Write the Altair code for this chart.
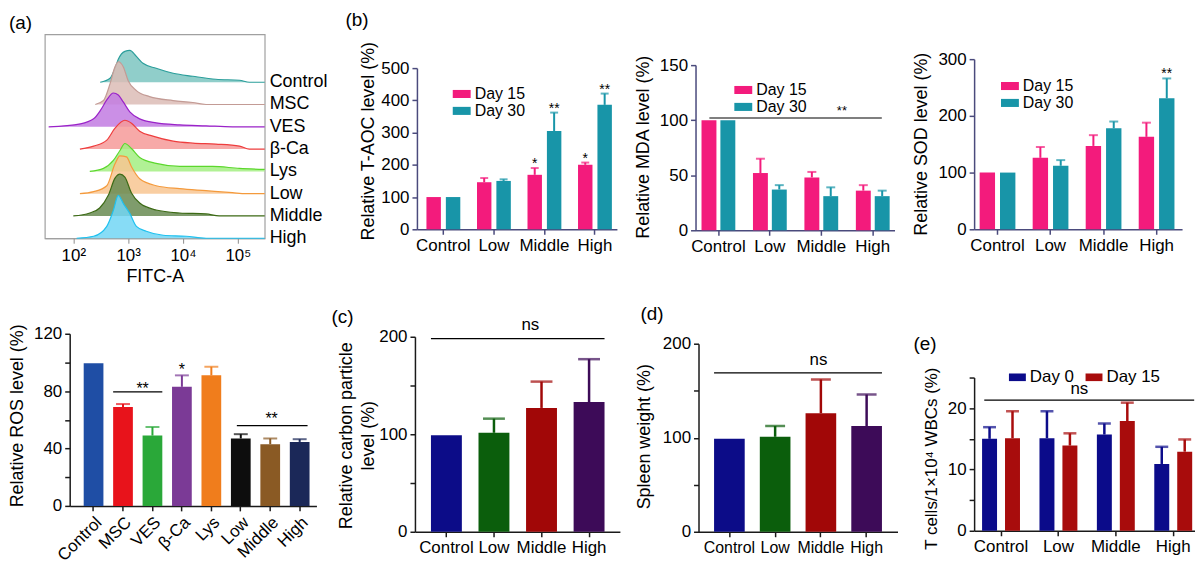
import altair as alt
import pandas as pd

FONT = "Liberation Sans"
RECT = "M-1,-0.45H1V0.45H-1Z"

# ---------------- (a) flow cytometry histograms ----------------
hist_groups = ["Control", "MSC", "VES", "β-Ca", "Lys", "Low", "Middle", "High"]
hist_line_colors = ["#2b9e9b", "#c39b95", "#9a23c8", "#ee3d3d", "#5bd72c", "#f49a3c", "#3c6a15", "#1fc1ef"]
hist_fill_colors = ["#7cc5c1", "#dcbcb6", "#c27be2", "#f69a99", "#a3ee82", "#f8c692", "#698b52", "#72d6f5"]
hist_step = 22.4

control_logx = [2.49, 2.67, 2.76, 2.82, 2.94, 3.03, 3.15, 3.27, 3.51, 3.82, 4.18, 4.6, 5.03, 5.21, 5.49]
control_h = [0, 4, 14, 23, 31, 32, 26, 19, 14, 9, 6, 3, 2, 0, 0]
msc_logx = [2.40, 2.55, 2.67, 2.76, 2.82, 2.91, 3.0, 3.15, 3.39, 3.82, 4.18, 4.42, 5.49]
msc_h = [0, 4, 21, 38, 43, 38, 24, 14, 8, 4, 2, 0, 0]
ves_logx = [1.55, 2.13, 2.37, 2.5, 2.61, 2.73, 2.82, 2.91, 3.03, 3.21, 3.51, 3.94, 4.42, 4.9, 5.49]
ves_h = [0, 3, 8, 17, 27, 34, 32, 25, 15, 8, 4, 2, 1, 0, 0]
bca_logx = [2.12, 2.37, 2.61, 2.76, 2.94, 3.06, 3.21, 3.45, 3.82, 4.18, 4.6, 5.03, 5.21, 5.49]
bca_h = [0, 3, 9, 21, 29, 26, 18, 13, 8, 6, 5, 3, 0, 0]
lys_logx = [2.3, 2.55, 2.73, 2.85, 2.94, 3.06, 3.21, 3.51, 3.94, 4.54, 5.03, 5.49]
lys_h = [0, 3, 11, 21, 28, 23, 14, 8, 5, 5, 3, 2]
low_logx = [2.12, 2.37, 2.61, 2.76, 2.85, 2.97, 3.06, 3.21, 3.51, 3.94, 4.42, 4.9, 5.15, 5.49]
low_h = [0, 2, 8, 30, 38, 37, 27, 15, 8, 5, 3, 1, 0, 0]
mid_logx = [2.0, 2.3, 2.48, 2.64, 2.76, 2.85, 2.94, 3.06, 3.21, 3.51, 3.94, 4.42, 4.66, 5.49]
mid_h = [0, 3, 8, 21, 38, 42, 39, 23, 13, 6, 3, 2, 0, 0]
high_logx = [2.06, 2.37, 2.61, 2.73, 2.82, 2.91, 3.03, 3.15, 3.33, 3.64, 4.06, 4.42, 5.49]
high_h = [0, 2, 12, 28, 43, 35, 25, 12, 7, 3, 2, 0, 0]

hist_logx = [control_logx, msc_logx, ves_logx, bca_logx, lys_logx, low_logx, mid_logx, high_logx]
hist_h = [control_h, msc_h, ves_h, bca_h, lys_h, low_h, mid_h, high_h]

# ---------------- (b) oxidative stress ----------------
cats4 = ["Control", "Low", "Middle", "High"]
days_b = ["Day 15", "Day 30"]
taoc_d15 = [100, 146, 169, 200]
taoc_d15_top = [100, 159, 190, 207]
taoc_d15_sig = ["", "", "*", "*"]
taoc_d30 = [100, 150, 305, 386]
taoc_d30_top = [100, 155, 362, 421]
taoc_d30_sig = ["", "", "**", "**"]

mda_d15 = [100, 52, 48, 36]
mda_d15_top = [100, 65, 53, 41]
mda_d30 = [100, 37, 31, 31]
mda_d30_top = [100, 41, 39, 36]
no_sig4 = ["", "", "", ""]

sod_d15 = [100, 126, 147, 163]
sod_d15_top = [100, 145, 166, 188]
sod_d30 = [100, 112, 178, 231]
sod_d30_top = [100, 122, 190, 266]
sod_d30_sig = ["", "", "", "**"]

# ---------------- ROS ----------------
ros_cats = ["Control", "MSC", "VES", "β-Ca", "Lys", "Low", "Middle", "High"]
ros_mean = [99.5, 69, 49, 83, 91, 47, 43, 44.6]
ros_top = [99.5, 71, 55, 91, 97, 50, 47, 46.5]
ros_sig = ["", "", "", "*", "", "", "", ""]
ros_colors = ["#1f4ea5", "#e8131b", "#2aa839", "#7b3a96", "#f07d1c", "#0d0d0d", "#8a5a24", "#1b2858"]

# ---------------- (c) (d) (e) ----------------
cd_colors = ["#0c0c88", "#0b5e0c", "#a10707", "#3d0b58"]
carbon_mean = [99, 101.5, 127, 133]
carbon_top = [99, 116, 154, 177]
spleen_mean = [99, 101, 126, 112.5]
spleen_top = [99, 112.5, 162, 146]

days_e = ["Day 0", "Day 15"]
tcell_d0 = [15.0, 15.1, 15.7, 10.9]
tcell_d0_top = [16.9, 19.5, 17.5, 13.7]
tcell_d15 = [15.1, 13.9, 17.9, 12.9]
tcell_d15_top = [19.5, 15.9, 20.9, 14.9]

PINK = "#f31b7c"
TEAL = "#1895a8"
BAXIS = "#4a4a7c"
KAXIS = "#1a1a1a"

RES = dict(x="independent", y="independent", color="independent", xOffset="independent")


def day_legend(x, y, direction="vertical", size=324, font_size=16):
    return alt.Legend(title=None, orient="none", legendX=x, legendY=y, direction=direction,
                      symbolType=RECT, symbolSize=size, symbolStrokeWidth=0, symbolOpacity=1,
                      labelFontSize=font_size, labelFont=FONT, labelColor="black", labelOffset=4,
                      rowPadding=0, columnPadding=11, padding=0)


def bar_panel(cats, means, tops, sigs, colors, *, series=None, width, height, band,
              offset_band=None, ydomain, yvalues, ylabel_every, ytitle, ytitle_x, ytitle_y,
              axis_color, cap, err_w=2.0, star_size=14, label_size=17, ylabel_size=17,
              title_size=18, label_angle=0, legend=None, extras=(), title_line_height=None):
    rows = []
    if series is None:
        for c, m, t, s in zip(cats, means, tops, sigs):
            rows.append({"cat": c, "grp": c, "mean": m, "top": t, "sig": s})
        color_domain = cats
    else:
        for si, sname in enumerate(series):
            for c, m, t, s in zip(cats, means[si], tops[si], sigs[si]):
                rows.append({"cat": c, "grp": sname, "mean": m, "top": t, "sig": s})
        color_domain = series
    df = pd.DataFrame(rows)

    x_axis = alt.Axis(title=None, labelAngle=label_angle, labelFontSize=label_size,
                      labelColor="black", labelPadding=3, labelOverlap=False, tickSize=5,
                      tickColor=axis_color, tickWidth=1.5, domainColor=axis_color,
                      domainWidth=1.5, grid=False, labelFont=FONT)
    x_scale = alt.Scale(domain=cats, paddingInner=band[0], paddingOuter=band[1], align=band[2])
    yax = dict(values=yvalues, title=ytitle, titleX=ytitle_x, titleY=ytitle_y,
               titleBaseline="middle", titleFontSize=title_size, titleFontWeight="normal",
               titleColor="black", titleFont=FONT, labelFontSize=ylabel_size, labelColor="black",
               labelFont=FONT, domainColor=axis_color, tickColor=axis_color, tickSize=5,
               tickWidth=1.5, domainWidth=1.5, grid=False, labelPadding=3)
    if ylabel_every:
        yax["labelExpr"] = f"datum.value % {ylabel_every} == 0 ? datum.label : ''"
    if title_line_height is not None:
        yax["titleLineHeight"] = title_line_height
    y_axis = alt.Axis(**yax)
    y_scale = alt.Scale(domain=ydomain, nice=False, zero=True)

    def X():
        return alt.X("cat:N", scale=x_scale, axis=x_axis)

    def Y(f):
        return alt.Y(f"{f}:Q", scale=y_scale, axis=y_axis)

    def enc(**kw):
        d = dict(x=X(), **kw)
        if series is not None:
            d["xOffset"] = alt.XOffset("grp:N", scale=alt.Scale(
                domain=series, paddingInner=offset_band[0], paddingOuter=offset_band[1]))
        return d

    cscale = alt.Scale(domain=color_domain, range=colors)
    bars = alt.Chart(df).mark_bar().encode(
        **enc(y=Y("mean"), color=alt.Color("grp:N", scale=cscale, legend=legend)))
    errs = alt.Chart(df).transform_filter("datum.top > datum.mean").mark_rule(
        strokeWidth=err_w).encode(
        **enc(y=Y("mean"), y2="top:Q", color=alt.Color("grp:N", scale=cscale, legend=None)))
    caps = alt.Chart(df).transform_filter("datum.top > datum.mean").mark_tick(
        orient="horizontal", size=cap, thickness=err_w).encode(
        **enc(y=Y("top"), color=alt.Color("grp:N", scale=cscale, legend=None)))
    stars = alt.Chart(df).transform_filter("datum.sig != ''").mark_text(
        baseline="alphabetic", fontSize=star_size, color="black", font=FONT).encode(
        **enc(y=Y("top"), text="sig:N"))
    layers = [bars, errs, caps, stars]
    for e in extras:
        edf = pd.DataFrame({"y": [e.get("y", 0)], "t": [e.get("text", "")]})
        if e["kind"] == "line":
            layers.append(alt.Chart(edf).mark_rule(color="black", strokeWidth=1.2).encode(
                x=alt.XDatum(e["from"][0], bandPosition=e["from"][1], type="nominal",
                             scale=x_scale, axis=x_axis),
                x2=alt.X2Datum(e["to"][0], bandPosition=e["to"][1]),
                y=Y("y")))
        elif e["kind"] == "text":
            layers.append(alt.Chart(edf).mark_text(
                baseline="alphabetic", align="center", fontSize=e["size"], color="black",
                font=FONT).encode(
                x=alt.XDatum(e["at"][0], bandPosition=e["at"][1], type="nominal",
                             scale=x_scale, axis=x_axis),
                y=Y("y"), text="t:N"))
        else:  # panel label, anchored to the first band start and the axis top
            layers.append(alt.Chart(edf).mark_text(
                baseline="middle", align="left", fontSize=19, color="black", font=FONT,
                dx=e["dx"], dy=e["dy"]).encode(
                x=alt.XDatum(cats[0], bandPosition=0, type="nominal", scale=x_scale, axis=x_axis),
                y=alt.YDatum(ydomain[1], type="quantitative", scale=y_scale, axis=y_axis),
                text="t:N"))
    return alt.layer(*layers).properties(width=width, height=height)


def spacer(w, h):
    return alt.Chart(pd.DataFrame({"v": [0]})).mark_point(opacity=0).encode(
        x=alt.X("v:Q", axis=None, scale=alt.Scale(domain=[0, 1])),
        y=alt.Y("v:Q", axis=None, scale=alt.Scale(domain=[0, 1]))).properties(width=w, height=h)


def wrap(panel, top, left=None):
    inner = alt.vconcat(spacer(1, top), panel, spacing=0, bounds="flush").resolve_scale(**RES)
    if left:
        inner = alt.hconcat(spacer(left, 1), inner, spacing=0, bounds="flush").resolve_scale(**RES)
    return inner


# ---------------- panel (a) ----------------
hist_rows = []
n_hist = len(hist_groups)
for i, g in enumerate(hist_groups):
    base = (n_hist - 1 - i) * hist_step
    for xv, hv in zip(hist_logx[i], hist_h[i]):
        hist_rows.append({"group": g, "logx": xv, "top": base + hv, "base": base})
hist_df = pd.DataFrame(hist_rows)
hist_label_df = pd.DataFrame({"group": hist_groups,
                              "base": [(n_hist - 1 - i) * hist_step for i in range(n_hist)]})

hx_scale = alt.Scale(domain=[1.48, 5.49], nice=False, zero=False)
hx_axis = alt.Axis(values=[2, 3, 4, 5],
                   labelExpr="'10' + (datum.value == 2 ? '²' : datum.value == 3 ? '³' : datum.value == 4 ? '⁴' : '⁵')",
                   title="FITC-A", titleFontSize=18, titleFontWeight="normal", titleColor="black",
                   titleFont=FONT, titlePadding=4, labelFontSize=17, labelColor="black",
                   labelFont=FONT, labelPadding=4, tickSize=5, tickColor="#8c8c8c",
                   domainColor="#a0a0a0", grid=False)
hy_scale = alt.Scale(domain=[0, 205], nice=False)

hist_layers = []
for g, lc, fc in zip(hist_groups, hist_line_colors, hist_fill_colors):
    src = alt.Chart(hist_df).transform_filter(alt.datum.group == g)
    hist_layers.append(src.mark_area(interpolate="monotone", color=fc, opacity=0.85).encode(
        x=alt.X("logx:Q", scale=hx_scale, axis=hx_axis),
        y=alt.Y("top:Q", scale=hy_scale, axis=None),
        y2="base:Q"))
    hist_layers.append(src.mark_line(interpolate="monotone", color=lc, strokeWidth=1.2).encode(
        x=alt.X("logx:Q", scale=hx_scale, axis=hx_axis),
        y=alt.Y("top:Q", scale=hy_scale, axis=None)))
hist_labels = alt.Chart(hist_label_df).mark_text(
    align="left", baseline="middle", dx=5, fontSize=18, color="black", font=FONT).encode(
    x=alt.XDatum(5.49, type="quantitative", scale=hx_scale, axis=hx_axis),
    y=alt.Y("base:Q", scale=hy_scale, axis=None),
    text="group:N")
a_label = alt.Chart(pd.DataFrame({"t": ["(a)"]})).mark_text(
    align="left", baseline="middle", fontSize=19, color="black", font=FONT, dx=-36, dy=-11).encode(
    x=alt.XDatum(1.48, type="quantitative", scale=hx_scale, axis=hx_axis),
    y=alt.YDatum(205, type="quantitative", scale=hy_scale, axis=None),
    text="t:N")
panel_a = alt.layer(*hist_layers, hist_labels, a_label).properties(
    width=221, height=205,
    view=alt.ViewBackground(stroke="#a0a0a0", strokeWidth=1.2))

# ---------------- panel (b) ----------------
taoc = bar_panel(cats4, [taoc_d15, taoc_d30], [taoc_d15_top, taoc_d30_top],
                 [taoc_d15_sig, taoc_d30_sig], [PINK, TEAL], series=days_b,
                 width=201, height=162, band=(0.2, 0.079, 0.78), offset_band=(0.256, 0.169),
                 ydomain=[0, 500], yvalues=[0, 100, 200, 300, 400, 500], ylabel_every=None,
                 ytitle="Relative T-AOC level (%)", ytitle_x=-49, ytitle_y=73,
                 axis_color=BAXIS, cap=8, legend=day_legend(36, 17),
                 extras=[{"kind": "label", "text": "(b)", "dx": -78, "dy": -48}])

mda = bar_panel(cats4, [mda_d15, mda_d30], [mda_d15_top, mda_d30_top],
                [no_sig4, no_sig4], [PINK, TEAL], series=days_b,
                width=200, height=166, band=(0.2, 0.034, 0.66), offset_band=(0.21, 0.195),
                ydomain=[0, 150], yvalues=[0, 50, 100, 150], ylabel_every=None,
                ytitle="Relative MDA level (%)", ytitle_x=-52, ytitle_y=82,
                axis_color=BAXIS, cap=9, legend=day_legend(39, 16),
                extras=[{"kind": "line", "from": ("Control", 0.28), "to": ("High", 0.72), "y": 102},
                        {"kind": "text", "at": ("Middle", 1.0), "y": 104.3, "text": "**", "size": 13}])

sod = bar_panel(cats4, [sod_d15, sod_d30], [sod_d15_top, sod_d30_top],
                [no_sig4, sod_d30_sig], [PINK, TEAL], series=days_b,
                width=209, height=171, band=(0.2, 0.061, 0.34), offset_band=(0.244, 0.164),
                ydomain=[0, 300], yvalues=[0, 100, 200, 300], ylabel_every=None,
                ytitle="Relative SOD level (%)", ytitle_x=-53, ytitle_y=85,
                axis_color=BAXIS, cap=9, legend=day_legend(27, 18))

# ---------------- ROS ----------------
ros = bar_panel(ros_cats, ros_mean, ros_top, ros_sig, ros_colors,
                width=248, height=173, band=(0.33, 0.355, 0.67),
                ydomain=[0, 120], yvalues=[0, 20, 40, 60, 80, 100, 120], ylabel_every=40,
                ytitle="Relative ROS level (%)", ytitle_x=-52, ytitle_y=82,
                axis_color=KAXIS, cap=14, star_size=16, label_angle=-45,
                extras=[{"kind": "line", "from": ("MSC", 0.0), "to": ("VES", 1.0), "y": 79.5},
                        {"kind": "text", "at": ("VES", 0.0), "y": 77.8, "text": "**", "size": 16},
                        {"kind": "line", "from": ("Low", 0.3), "to": ("High", 0.9), "y": 56},
                        {"kind": "text", "at": ("Middle", 0.57), "y": 57.2, "text": "**", "size": 16}])

# ---------------- (c) ----------------
panel_c = bar_panel(cats4, carbon_mean, carbon_top, no_sig4, cd_colors,
                    width=206, height=196, band=(0.35, 0.33, 0.51),
                    ydomain=[0, 200], yvalues=[0, 50, 100, 150, 200], ylabel_every=100,
                    ytitle=["Relative carbon particle", "level (%)"], ytitle_x=-69, ytitle_y=99,
                    title_line_height=22, axis_color=KAXIS, cap=22, err_w=2.5,
                    extras=[{"kind": "line", "from": ("Control", 0.0), "to": ("High", 1.0), "y": 198},
                            {"kind": "text", "at": ("Middle", 0.14), "y": 206.7, "text": "ns", "size": 17},
                            {"kind": "label", "text": "(c)", "dx": -100, "dy": -19.5}])

# ---------------- (d) ----------------
panel_d = bar_panel(cats4, spleen_mean, spleen_top, no_sig4, cd_colors,
                    width=200, height=189, band=(0.33, 0.34, 0.5),
                    ydomain=[0, 200], yvalues=[0, 50, 100, 150, 200], ylabel_every=100,
                    ytitle="Spleen weight (%)", ytitle_x=-54, ytitle_y=93,
                    axis_color=KAXIS, cap=20, err_w=2.5, label_size=16,
                    extras=[{"kind": "line", "from": ("Control", 0.0), "to": ("High", 1.0), "y": 169},
                            {"kind": "text", "at": ("Middle", 0.42), "y": 177.7, "text": "ns", "size": 17},
                            {"kind": "label", "text": "(d)", "dx": -74, "dy": -29.5}])

# ---------------- (e) ----------------
panel_e = bar_panel(cats4, [tcell_d0, tcell_d15], [tcell_d0_top, tcell_d15_top],
                    [no_sig4, no_sig4], ["#0b0b8a", "#a80c0c"], series=days_e,
                    width=222, height=154, band=(0.27, 0.059, 0.88), offset_band=(0.348, 0.087),
                    ydomain=[0, 25], yvalues=[0, 5, 10, 15, 20, 25], ylabel_every=10,
                    ytitle="T cells/1×10⁴ WBCs (%)", ytitle_x=-43, ytitle_y=81, title_size=17,
                    axis_color=KAXIS, cap=13, err_w=2.5,
                    legend=day_legend(35, -9, direction="horizontal", size=289, font_size=17),
                    extras=[{"kind": "line", "from": ("Control", 0.1), "to": ("High", 1.0), "y": 21.3},
                            {"kind": "text", "at": ("Low", 1.0), "y": 22.25, "text": "ns", "size": 17},
                            {"kind": "label", "text": "(e)", "dx": -67, "dy": -33.5}])

row1 = alt.hconcat(wrap(panel_a, 25), wrap(taoc, 59), wrap(mda, 56), wrap(sod, 50),
                   spacing=17).resolve_scale(**RES)
row2 = alt.hconcat(wrap(ros, 26, left=25), wrap(panel_c, 29), wrap(panel_d, 36), wrap(panel_e, 70),
                   spacing=15).resolve_scale(**RES)

chart = alt.vconcat(row1, row2, spacing=19).resolve_scale(**RES).properties(
    padding=0, background="white"
).configure(font=FONT).configure_view(stroke=None).configure_axis(
    labelFont=FONT, titleFont=FONT
).configure_legend(labelFont=FONT)

chart.save("out.html", embed_options={"renderer": "svg", "actions": False})
